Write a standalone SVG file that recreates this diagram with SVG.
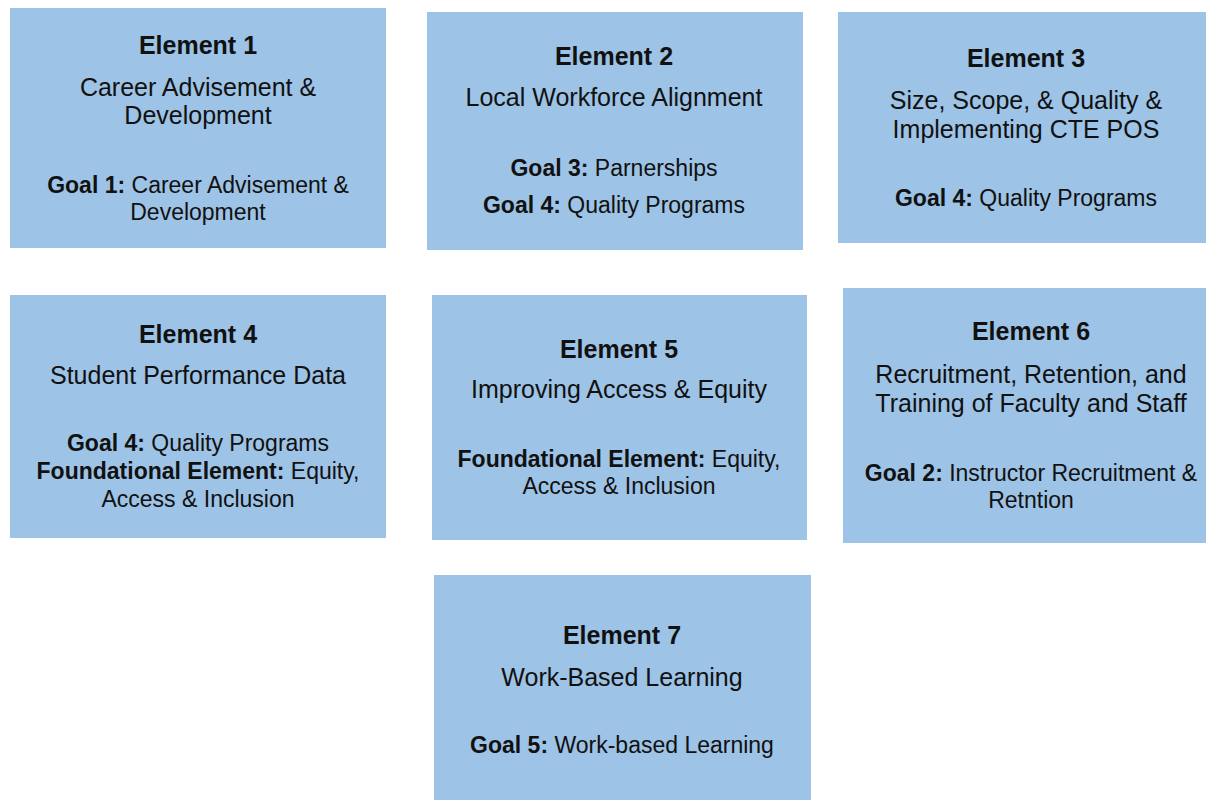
<svg xmlns="http://www.w3.org/2000/svg" width="1206" height="800" viewBox="0 0 1206 800">
<style>
.box{fill:#9DC3E6;}
text{font-family:"Liberation Sans",Arial,sans-serif;fill:#111;text-anchor:middle;}
.t{font-size:25px;font-weight:bold;}
.s{font-size:25px;}
.g{font-size:23px;}
.b{font-weight:bold;}
</style>
<rect width="1206" height="800" fill="#fff"/>
<g id="connectors"></g>
<g id="element1">
<rect class="box" x="10" y="8" width="376" height="240"/>
<text class="t" x="198" y="54">Element 1</text>
<text class="s" x="198" y="96">Career Advisement &amp;</text>
<text class="s" x="198" y="124">Development</text>
<text class="g" x="198" y="193"><tspan class="b">Goal 1:</tspan> Career Advisement &amp;</text>
<text class="g" x="198" y="220">Development</text>
</g>
<g id="element2">
<rect class="box" x="427" y="12" width="376" height="238"/>
<text class="t" x="614" y="65">Element 2</text>
<text class="s" x="614" y="106">Local Workforce Alignment</text>
<text class="g" x="614" y="176"><tspan class="b">Goal 3:</tspan> Parnerships</text>
<text class="g" x="614" y="213"><tspan class="b">Goal 4:</tspan> Quality Programs</text>
</g>
<g id="element3">
<rect class="box" x="838" y="12" width="368" height="231"/>
<text class="t" x="1026" y="67">Element 3</text>
<text class="s" x="1026" y="109">Size, Scope, &amp; Quality &amp;</text>
<text class="s" x="1026" y="138">Implementing CTE POS</text>
<text class="g" x="1026" y="206"><tspan class="b">Goal 4:</tspan> Quality Programs</text>
</g>
<g id="element4">
<rect class="box" x="10" y="295" width="376" height="243"/>
<text class="t" x="198" y="343">Element 4</text>
<text class="s" x="198" y="384">Student Performance Data</text>
<text class="g" x="198" y="451"><tspan class="b">Goal 4:</tspan> Quality Programs</text>
<text class="g" x="198" y="479"><tspan class="b">Foundational Element:</tspan> Equity,</text>
<text class="g" x="198" y="507">Access &amp; Inclusion</text>
</g>
<g id="element5">
<rect class="box" x="432" y="295" width="375" height="245"/>
<text class="t" x="619" y="358">Element 5</text>
<text class="s" x="619" y="398">Improving Access &amp; Equity</text>
<text class="g" x="619" y="467"><tspan class="b">Foundational Element:</tspan> Equity,</text>
<text class="g" x="619" y="494">Access &amp; Inclusion</text>
</g>
<g id="element6">
<rect class="box" x="843" y="288" width="363" height="255"/>
<text class="t" x="1031" y="340">Element 6</text>
<text class="s" x="1031" y="383">Recruitment, Retention, and</text>
<text class="s" x="1031" y="412">Training of Faculty and Staff</text>
<text class="g" x="1031" y="481"><tspan class="b">Goal 2:</tspan> Instructor Recruitment &amp;</text>
<text class="g" x="1031" y="508">Retntion</text>
</g>
<g id="element7">
<rect class="box" x="434" y="575" width="377" height="225"/>
<text class="t" x="622" y="644">Element 7</text>
<text class="s" x="622" y="686">Work-Based Learning</text>
<text class="g" x="622" y="753"><tspan class="b">Goal 5:</tspan> Work-based Learning</text>
</g>
</svg>
